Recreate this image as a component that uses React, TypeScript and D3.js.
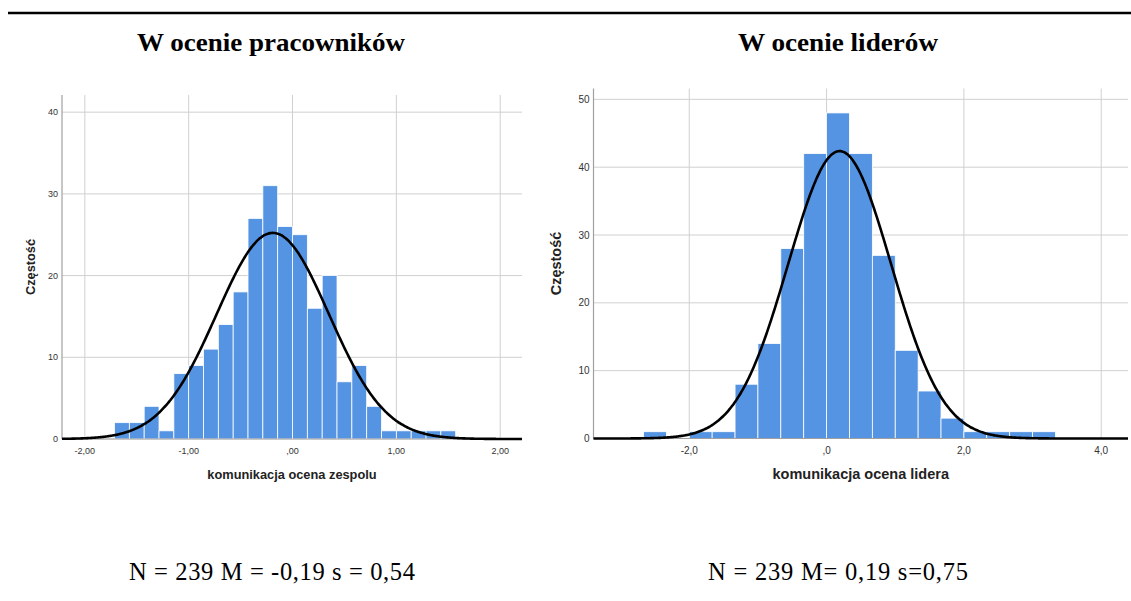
import React from "react";
import * as d3 from "d3";

// ---------- data ----------
const leftCounts = [2, 2, 4, 1, 8, 9, 11, 14, 18, 27, 31, 26, 25, 16, 20, 7, 9, 4, 1, 1, 1, 1, 1];
const leftFirstEdge = -12 / 7;
const leftBinWidth = 1 / 7;
const leftXTicks = [-2, -1, 0, 1, 2];
const leftXTickLabels = ["-2,00", "-1,00", ",00", "1,00", "2,00"];
const leftYTicks = [0, 10, 20, 30, 40];
const leftStats = { n: 239, mean: -0.19, sd: 0.54 };

const rightCounts = [1, 0, 1, 1, 8, 14, 28, 42, 48, 42, 27, 13, 7, 3, 1, 1, 1, 1];
const rightFirstEdge = -8 / 3;
const rightBinWidth = 1 / 3;
const rightXTicks = [-2, 0, 2, 4];
const rightXTickLabels = ["-2,0", ",0", "2,0", "4,0"];
const rightYTicks = [0, 10, 20, 30, 40, 50];
const rightStats = { n: 239, mean: 0.19, sd: 0.75 };

const titles = ["W ocenie pracowników", "W ocenie liderów"];
const xTitles = ["komunikacja ocena zespolu", "komunikacja ocena lidera"];
const yTitle = "Częstość";
const footers = ["N = 239 M = -0,19 s = 0,54", "N = 239 M= 0,19 s=0,75"];

type PanelProps = {
  counts: number[];
  firstEdge: number;
  binWidth: number;
  xTicks: number[];
  xTickLabels: string[];
  yTicks: number[];
  stats: { n: number; mean: number; sd: number };
  xDomain: [number, number];
  yDomain: [number, number];
  px: [number, number];
  py: [number, number];
  xTitle: string;
  yTitleX: number;
  tickSize: number;
  titleSize: number;
};

function Panel(p: PanelProps) {
  const x = d3.scaleLinear().domain(p.xDomain).range(p.px);
  const y = d3.scaleLinear().domain(p.yDomain).range(p.py);
  const bins = p.counts.map((c, i) => ({
    x0: p.firstEdge + i * p.binWidth,
    x1: p.firstEdge + (i + 1) * p.binWidth,
    c,
  }));
  const { n, mean, sd } = p.stats;
  const dens = (v: number) =>
    (n * p.binWidth) / (sd * Math.sqrt(2 * Math.PI)) * Math.exp(-0.5 * ((v - mean) / sd) ** 2);
  const xs = d3.range(0, 401).map((i) => p.xDomain[0] + ((p.xDomain[1] - p.xDomain[0]) * i) / 400);
  const line = d3
    .line<number>()
    .x((v) => x(v))
    .y((v) => y(dens(v)))
    .curve(d3.curveBasis);
  const grid = "#d0d0d0";
  const tickFont = "Liberation Sans, Arial, sans-serif";
  return (
    <g>
      {p.yTicks.map((t) => (
        <line key={"hy" + t} x1={p.px[0]} x2={p.px[1]} y1={y(t)} y2={y(t)} stroke={grid} strokeWidth={1} />
      ))}
      {p.xTicks.map((t) => (
        <line key={"vx" + t} x1={x(t)} x2={x(t)} y1={p.py[0]} y2={p.py[1]} stroke={grid} strokeWidth={1} />
      ))}
      {bins.map((b, i) =>
        b.c > 0 ? (
          <rect
            key={"b" + i}
            x={x(b.x0)}
            y={y(b.c)}
            width={x(b.x1) - x(b.x0)}
            height={y(0) - y(b.c)}
            fill="#5594e2"
            stroke="#ffffff"
            strokeWidth={0.8}
          />
        ) : null
      )}
      <line x1={p.px[0]} x2={p.px[0]} y1={p.py[0]} y2={p.py[1]} stroke="#a0a0a0" strokeWidth={1.2} />
      <line x1={p.px[0]} x2={p.px[1]} y1={p.py[0]} y2={p.py[0]} stroke="#a0a0a0" strokeWidth={1} />
      <path d={line(xs) || ""} fill="none" stroke="#000" strokeWidth={2.6} />
      {p.yTicks.map((t) => (
        <text
          key={"ty" + t}
          x={p.px[0] - 4}
          y={y(t)}
          dy="0.35em"
          textAnchor="end"
          fontFamily={tickFont}
          fontSize={p.tickSize}
          fill="#333"
        >
          {t}
        </text>
      ))}
      {p.xTicks.map((t, i) => (
        <text
          key={"tx" + t}
          x={x(t)}
          y={p.py[0] + 15}
          textAnchor="middle"
          fontFamily={tickFont}
          fontSize={p.tickSize}
          fill="#333"
        >
          {p.xTickLabels[i]}
        </text>
      ))}
      <text
        x={(p.px[0] + p.px[1]) / 2}
        y={p.py[0] + 40}
        textAnchor="middle"
        fontFamily={tickFont}
        fontWeight="bold"
        fontSize={p.titleSize}
        fill="#222"
      >
        {p.xTitle}
      </text>
      <text
        transform={`translate(${p.yTitleX},${(p.py[0] + p.py[1]) / 2}) rotate(-90)`}
        textAnchor="middle"
        fontFamily={tickFont}
        fontWeight="bold"
        fontSize={p.titleSize}
        fill="#222"
      >
        {yTitle}
      </text>
    </g>
  );
}

export default function App() {
  const serif = "Liberation Serif, serif";
  return (
    <svg
      width={1131}
      height={601}
      style={{ position: "absolute", left: 0, top: 0, background: "#fff" }}
    >
      <rect x={0} y={0} width={1131} height={601} fill="#fff" />
      <line x1={8} x2={1131} y1={13} y2={13} stroke="#000" strokeWidth={2.5} />
      <text x={137} y={51} fontFamily={serif} fontWeight="bold" fontSize={26}
        textLength={268} lengthAdjust="spacingAndGlyphs">
        {titles[0]}
      </text>
      <text x={738} y={51} fontFamily={serif} fontWeight="bold" fontSize={26}
        textLength={200} lengthAdjust="spacingAndGlyphs">
        {titles[1]}
      </text>
      <Panel
        counts={leftCounts}
        firstEdge={leftFirstEdge}
        binWidth={leftBinWidth}
        xTicks={leftXTicks}
        xTickLabels={leftXTickLabels}
        yTicks={leftYTicks}
        stats={leftStats}
        xDomain={[-2.22, 2.21]}
        yDomain={[0, 42.1]}
        px={[62, 522]}
        py={[439, 95]}
        xTitle={xTitles[0]}
        yTitleX={35}
        tickSize={9}
        titleSize={12.8}
      />
      <Panel
        counts={rightCounts}
        firstEdge={rightFirstEdge}
        binWidth={rightBinWidth}
        xTicks={rightXTicks}
        xTickLabels={rightXTickLabels}
        yTicks={rightYTicks}
        stats={rightStats}
        xDomain={[-3.395, 4.39]}
        yDomain={[0, 51.6]}
        px={[593.5, 1128]}
        py={[438.5, 88.5]}
        xTitle={xTitles[1]}
        yTitleX={561}
        tickSize={10}
        titleSize={14.5}
      />
      <text x={129} y={580} fontFamily={serif} fontSize={24.5}
        textLength={286} lengthAdjust="spacing">
        {footers[0]}
      </text>
      <text x={708} y={580} fontFamily={serif} fontSize={24.5}
        textLength={260} lengthAdjust="spacing">
        {footers[1]}
      </text>
    </svg>
  );
}
